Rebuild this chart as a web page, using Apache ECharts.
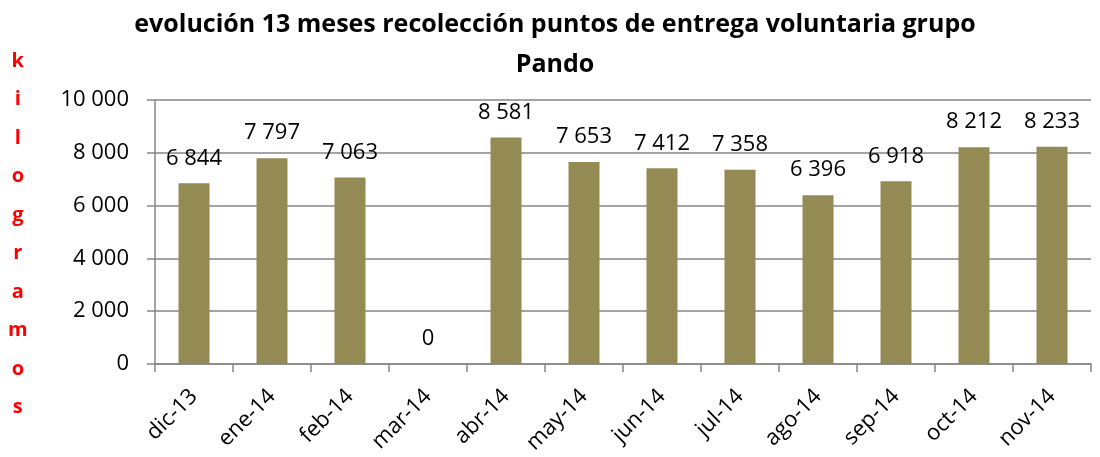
<!DOCTYPE html>
<html>
<head>
<meta charset="utf-8">
<script src="https://cdn.jsdelivr.net/npm/echarts@6/dist/echarts.min.js"></script>
<style>
html,body{margin:0;padding:0;background:#fff}
#main{width:1100px;height:457px}
</style>
</head>
<body>
<div id="main"></div>
<script>
// datos
var meses = ['dic-13', 'ene-14', 'feb-14', 'mar-14', 'abr-14', 'may-14', 'jun-14', 'jul-14', 'ago-14', 'sep-14', 'oct-14', 'nov-14'];
var kilos = [6844, 7797, 7063, 0, 8581, 7653, 7412, 7358, 6396, 6918, 8212, 8233];
var ejeY = [0, 2000, 4000, 6000, 8000, 10000];

var fuente = '"Open Sans", "Noto Sans", sans-serif';

// separador de miles con espacio
function miles(v) {
    return String(v).replace(/\B(?=(\d{3})+(?!\d))/g, ' ');
}

var myChart = echarts.init(document.getElementById('main'));

var option = {
    backgroundColor: '#fff',
    animation: false,
    title: {
        text: 'evolución 13 meses recolección puntos de entrega voluntaria grupo\nPando',
        left: 550,
        top: 0,
        textAlign: 'center',
        textStyle: {
            fontFamily: fuente,
            fontWeight: 'bold',
            fontSize: 25,
            lineHeight: 40,
            color: '#000'
        }
    },
    graphic: [{
        type: 'text',
        left: 8,
        top: 42,
        style: {
            text: 'kilogramos'.split('').join('\n'),
            fontFamily: fuente,
            fontWeight: 'bold',
            fontSize: 20,
            lineHeight: 38.5,
            fill: '#ff0000',
            textAlign: 'center'
        }
    }],
    grid: {
        left: 155,
        right: 9,
        top: 100,
        bottom: 93
    },
    xAxis: {
        type: 'category',
        data: meses,
        axisLine: {lineStyle: {color: '#868686', width: 1.5}},
        axisTick: {show: true, length: 8, lineStyle: {color: '#868686', width: 1.5}},
        axisLabel: {
            rotate: 45,
            margin: 29,
            fontFamily: fuente,
            fontSize: 22,
            color: '#000'
        }
    },
    yAxis: {
        type: 'value',
        min: 0,
        max: 10000,
        interval: 2000,
        axisLine: {show: true, lineStyle: {color: '#868686', width: 1.5}},
        axisTick: {show: true, length: 8, lineStyle: {color: '#868686', width: 1.5}},
        splitLine: {lineStyle: {color: '#868686', width: 1.5}},
        axisLabel: {
            margin: 26,
            fontFamily: fuente,
            fontSize: 22,
            color: '#000',
            formatter: function (v) { return miles(v); }
        }
    },
    series: [{
        type: 'bar',
        data: kilos,
        barWidth: 31,
        itemStyle: {
            color: '#948a54'
        },
        label: {
            show: true,
            position: 'top',
            distance: 14,
            fontFamily: fuente,
            fontSize: 22,
            color: '#000',
            formatter: function (p) { return miles(p.value); }
        }
    }]
};

myChart.setOption(option);
</script>
</body>
</html>
